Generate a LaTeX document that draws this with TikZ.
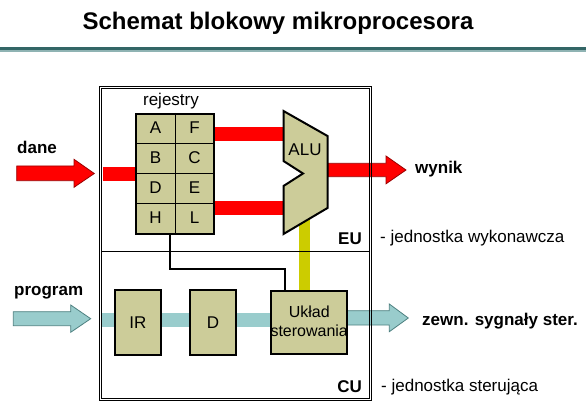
\documentclass[tikz,border=0pt]{standalone}
\usepackage{fontspec}
\setmainfont{Liberation Sans}
\definecolor{khaki}{HTML}{CCCC99}
\definecolor{cyanbar}{HTML}{99CCCC}
\definecolor{yellowbar}{HTML}{CCCC00}
\definecolor{tealA}{HTML}{336666}
\definecolor{tealB}{HTML}{8FB3B3}
\definecolor{redline}{HTML}{990000}
\definecolor{cyanline}{HTML}{4D8080}
\newcommand\setfs[1]{\fontsize{#1}{#1}\selectfont}
\begin{document}
\begin{tikzpicture}[x=1pt,y=-1pt,
  box/.style={draw,line width=2pt,fill=khaki,inner sep=0pt},
  txt/.style={inner sep=0pt,font=\setfs{17}},
  btxt/.style={inner sep=0pt,font=\setfs{17}\bfseries},
  redarrow/.style={fill=red,draw=redline,line width=0.8pt,line join=miter},
  carrow/.style={fill=cyanbar,draw=cyanline,line width=0.8pt,line join=miter},
  frameline/.style={draw,line width=0.9pt},
  wire/.style={draw,line width=2pt}]
\useasboundingbox (0,0) rectangle (586,406);

% title
\node[inner sep=0pt,anchor=base,font=\setfs{24}\bfseries] (title) at (278,29.3) {Schemat blokowy mikroprocesora};
\fill[tealA] (0,47.5) rectangle (586,50.5);
\fill[tealB] (0,50.5) rectangle (586,52);

% bars
\path[fill=yellowbar] (299,215) rectangle (309.5,291);
\path[fill=red] (103,167) rectangle (136,181);
\path[fill=red] (214,127) rectangle (284,141);
\path[fill=red] (214,201) rectangle (284,215);
\path[fill=cyanbar] (101.8,312.7) rectangle (271,326.7);

% arrows
\draw[redarrow] (16.7,166) -- (74,166) -- (74,159.3) -- (94.3,173.5) -- (74,187.3) -- (74,180.7) -- (16.7,180.7) -- cycle;
\draw[redarrow] (328,163.3) -- (386,163.3) -- (386,156) -- (406,170) -- (386,183.8) -- (386,176.7) -- (328,176.7) -- cycle;
\draw[carrow] (13.3,311.7) -- (70.7,311.7) -- (70.7,305) -- (90.7,318.7) -- (70.7,332.3) -- (70.7,325.7) -- (13.3,325.7) -- cycle;
\draw[carrow] (347,310.7) -- (389.3,310.7) -- (389.3,304) -- (408.3,318) -- (389.3,331.7) -- (389.3,325) -- (347,325) -- cycle;

% registers
\node[box,minimum width=78pt,minimum height=120pt] (reg) at (175,174) {};
\draw[line width=1pt] (reg.north) -- (reg.south);
\foreach \yy in {144,174,204} \draw[line width=1pt] (136,\yy) -- (214,\yy);
\node[txt,anchor=base] (rA) at (155.5,133.5) {A};
\node[txt,anchor=base] (rF) at (194.5,133.5) {F};
\node[txt,anchor=base] (rB) at (155.5,163.5) {B};
\node[txt,anchor=base] (rC) at (194.5,163.5) {C};
\node[txt,anchor=base] (rD) at (155.5,193.5) {D};
\node[txt,anchor=base] (rE) at (194.5,193.5) {E};
\node[txt,anchor=base] (rH) at (155.5,223.7) {H};
\node[txt,anchor=base] (rL) at (194.5,223.7) {L};
\node[txt,anchor=base] (rej) at (171,106) {rejestry};

% ALU
\draw[fill=khaki,line width=2pt,line join=miter] (283.5,111) -- (327.5,136) -- (327.5,208) -- (283.5,234) -- (283.5,186) -- (303,173.5) -- (283.5,161) -- cycle;
\node[txt,anchor=base] (alu) at (305,155.3) {ALU};

% CU boxes
\node[box,minimum width=45.7pt,minimum height=64.4pt] (ir) at (137.9,322.5) {};
\node[txt] (irl) at (ir) {IR};
\node[box,minimum width=45.4pt,minimum height=64.4pt] (dbox) at (213,322.5) {};
\node[txt] (dl) at (dbox) {D};
\node[box,minimum width=76.3pt,minimum height=63pt] (uk) at (309.2,322.5) {};
\node[txt,font=\setfs{16},anchor=base] (uk1) at (309.2,317.3) {Układ};
\node[txt,font=\setfs{16},anchor=base] (uk2) at (309.2,336) {sterowania};

% wire
\coordinate (bend) at (285,269.3);
\draw[wire] ([xshift=-5pt]reg.south) |- (bend) -- (bend |- uk.north);

% frame
\draw[frameline] (99.5,86.5) rectangle (371.5,400.5);
\draw[frameline] (101.8,88.8) rectangle (369.2,398.2);
\draw[line width=0.9pt] (101.8,251.7) -- (369.2,251.7);
\node[btxt,anchor=base east] (eu) at (362,244) {EU};
\node[btxt,anchor=base east] (cu) at (362,392) {CU};

% labels
\node[btxt,anchor=base west] (dane) at (17,153.3) {dane};
\node[btxt,anchor=base west] (program) at (14,295) {program};
\node[btxt,anchor=base west] (wynik) at (415,173.3) {wynik};
\node[btxt,anchor=base west] (zewn) at (422,325.5) {zewn. sygnały ster.};
\node[txt,anchor=base west] (eudesc) at (380,242) {- jednostka wykonawcza};
\node[txt,anchor=base west] (cudesc) at (381,391) {- jednostka sterująca};
\end{tikzpicture}
\end{document}
